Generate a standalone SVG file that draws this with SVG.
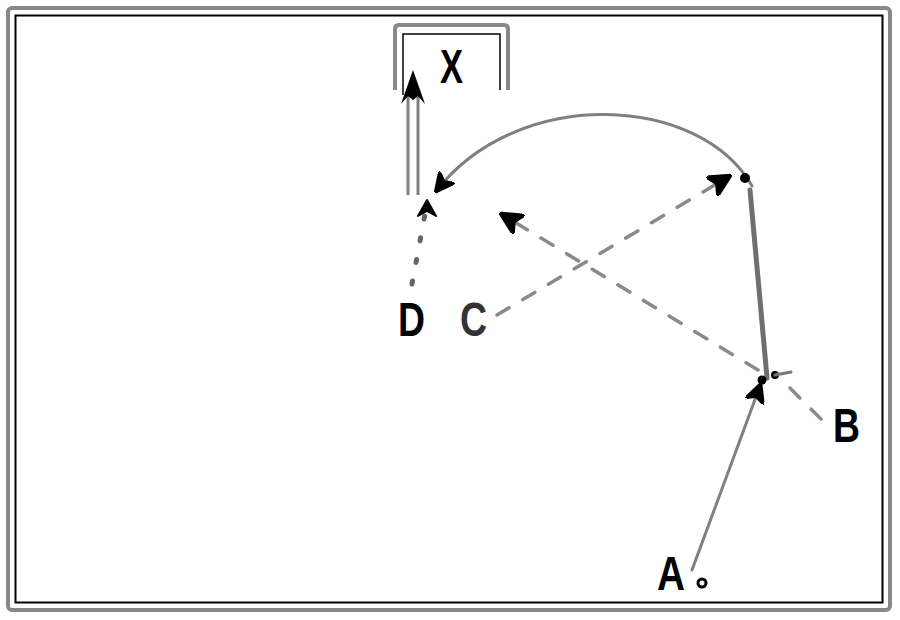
<svg xmlns="http://www.w3.org/2000/svg" width="900" height="620" viewBox="0 0 900 620">
<style>
.lbl{font-family:"Liberation Sans",Arial,sans-serif;font-weight:bold;font-size:48px;fill:#000}
.solid{fill:none;stroke:#808080;stroke-width:3;stroke-linecap:round}
.dash{fill:none;stroke:#8a8a8a;stroke-width:3.5;stroke-dasharray:14 16;stroke-linecap:round}
.dot{fill:none;stroke:#666;stroke-width:5;stroke-dasharray:3 19;stroke-linecap:round}
</style>
<defs>
<marker id="ah" viewBox="0 0 12 12" refX="10" refY="6" markerWidth="6.5" markerHeight="6.5" orient="auto" markerUnits="strokeWidth">
<path d="M0,0 L12,6 L0,12 L3,6 Z" fill="#000" stroke="#000" stroke-width="1.5" stroke-linejoin="round"/>
</marker>
</defs>
<rect width="900" height="620" fill="#fff"/>
<g id="frame">
<rect x="8" y="8" width="882" height="602" rx="4" fill="none" stroke="#888" stroke-width="4"/>
<rect x="15.5" y="15.5" width="867" height="587" fill="none" stroke="#000" stroke-width="2"/>
</g>
<g id="connectors">
<line class="solid" x1="692" y1="570" x2="760" y2="386" marker-end="url(#ah)"/>
<path d="M767,378 L760,300 L750,190" fill="none" stroke="#6f6f6f" stroke-width="5" stroke-linecap="round"/>
<line class="dash" x1="758" y1="370" x2="503" y2="215" marker-end="url(#ah)"/>
<line class="dash" x1="497" y1="315" x2="728" y2="177" marker-end="url(#ah)"/>
<line class="dash" x1="790" y1="388" x2="830" y2="428" stroke="#aaa"/>
<path d="M752,186 C700,95 520,85 437,190" class="solid" marker-end="url(#ah)"/>
<line class="dot" x1="412" y1="284" x2="425" y2="214"/>
<path d="M427,200 L418,216 L427,211 L436,216 Z" fill="#000" stroke="#000" stroke-width="2" stroke-linejoin="round"/>
<line x1="408" y1="195" x2="408" y2="90" stroke="#808080" stroke-width="3"/>
<line x1="418" y1="195" x2="418" y2="90" stroke="#808080" stroke-width="3"/>
<path d="M413,70 L425,104 L418,96 L413,100 L408,96 L401,104 Z" fill="#000"/>
</g>
<g id="node-top">
<circle cx="745" cy="178" r="5" fill="#000"/>
</g>
<g id="node-junction">
<circle cx="762" cy="380" r="4.5" fill="#000"/>
<circle cx="775" cy="375" r="4" fill="#000"/>
<line x1="775" y1="375" x2="791" y2="372" stroke="#777" stroke-width="3" stroke-linecap="round"/>
</g>
<g id="node-X">
<path d="M395,90 V29 Q395,25 399,25 H504 Q508,25 508,29 V90" fill="none" stroke="#888" stroke-width="4"/>
<path d="M403,95 V34 H500 V90" fill="none" stroke="#000" stroke-width="1.5"/>
<text class="lbl" x="440" y="83" textLength="23" lengthAdjust="spacingAndGlyphs">X</text>
</g>
<g id="node-D">
<text class="lbl" x="398" y="336" textLength="27" lengthAdjust="spacingAndGlyphs">D</text>
</g>
<g id="node-C">
<text class="lbl" x="460" y="336" textLength="27" lengthAdjust="spacingAndGlyphs" style="fill:#333">C</text>
</g>
<g id="node-B">
<text class="lbl" x="833" y="442" textLength="27" lengthAdjust="spacingAndGlyphs">B</text>
</g>
<g id="node-A">
<text class="lbl" x="657" y="590" textLength="28" lengthAdjust="spacingAndGlyphs">A</text>
<circle cx="702" cy="583" r="4" fill="#fff" stroke="#000" stroke-width="3"/>
</g>
</svg>
